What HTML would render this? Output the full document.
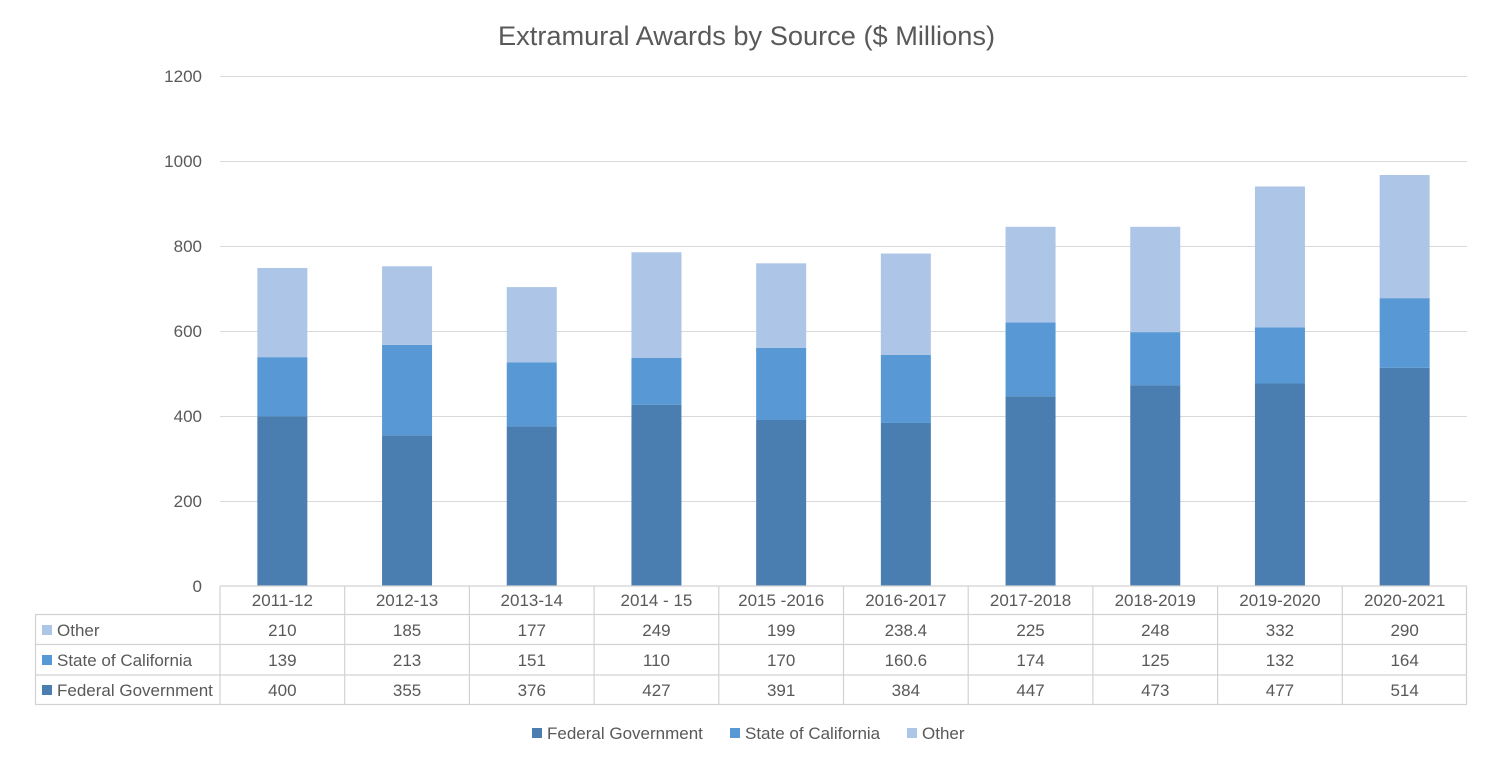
<!DOCTYPE html>
<html>
<head>
<meta charset="utf-8">
<style>
html,body{margin:0;padding:0;background:#fff;}
svg{display:block;}
text{font-family:"Liberation Sans",Arial,sans-serif;fill:#595959;}
</style>
</head>
<body>
<svg width="1490" height="763" viewBox="0 0 1490 763" xmlns="http://www.w3.org/2000/svg">
<rect x="0" y="0" width="1490" height="763" fill="#fff"/>
<!-- title -->
<text x="746.5" y="45" font-size="27" text-anchor="middle" textLength="497" lengthAdjust="spacingAndGlyphs">Extramural Awards by Source ($ Millions)</text>

<!-- gridlines -->
<g stroke="#d9d9d9" stroke-width="1">
<line x1="220" y1="76.5" x2="1467" y2="76.5"/>
<line x1="220" y1="161.5" x2="1467" y2="161.5"/>
<line x1="220" y1="246.5" x2="1467" y2="246.5"/>
<line x1="220" y1="331.5" x2="1467" y2="331.5"/>
<line x1="220" y1="416.5" x2="1467" y2="416.5"/>
<line x1="220" y1="501.5" x2="1467" y2="501.5"/>
</g>

<!-- y labels -->
<g font-size="17" text-anchor="end">
<text x="202" y="82">1200</text>
<text x="202" y="167">1000</text>
<text x="202" y="252">800</text>
<text x="202" y="337">600</text>
<text x="202" y="422">400</text>
<text x="202" y="507">200</text>
<text x="202" y="592">0</text>
</g>

<!-- bars: federal -->
<g fill="#4a7eb0">
<rect x="257.35" y="416.17" width="50" height="169.83"/>
<rect x="382.05" y="435.27" width="50" height="150.73"/>
<rect x="506.75" y="426.36" width="50" height="159.64"/>
<rect x="631.45" y="404.70" width="50" height="181.30"/>
<rect x="756.15" y="419.99" width="50" height="166.01"/>
<rect x="880.85" y="422.96" width="50" height="163.04"/>
<rect x="1005.55" y="396.21" width="50" height="189.79"/>
<rect x="1130.25" y="385.17" width="50" height="200.83"/>
<rect x="1254.95" y="383.48" width="50" height="202.52"/>
<rect x="1379.65" y="367.77" width="50" height="218.23"/>
</g>
<!-- bars: state -->
<g fill="#5899d5">
<rect x="257.35" y="357.15" width="50" height="59.02"/>
<rect x="382.05" y="344.84" width="50" height="90.43"/>
<rect x="506.75" y="362.25" width="50" height="64.11"/>
<rect x="631.45" y="358.00" width="50" height="46.70"/>
<rect x="756.15" y="347.81" width="50" height="72.18"/>
<rect x="880.85" y="354.77" width="50" height="68.19"/>
<rect x="1005.55" y="322.34" width="50" height="73.87"/>
<rect x="1130.25" y="332.10" width="50" height="53.07"/>
<rect x="1254.95" y="327.43" width="50" height="56.05"/>
<rect x="1379.65" y="298.13" width="50" height="69.64"/>
</g>
<!-- bars: other -->
<g fill="#adc5e6">
<rect x="257.35" y="267.99" width="50" height="89.16"/>
<rect x="382.05" y="266.29" width="50" height="78.55"/>
<rect x="506.75" y="287.10" width="50" height="75.15"/>
<rect x="631.45" y="252.28" width="50" height="105.72"/>
<rect x="756.15" y="263.32" width="50" height="84.49"/>
<rect x="880.85" y="253.55" width="50" height="101.22"/>
<rect x="1005.55" y="226.81" width="50" height="95.53"/>
<rect x="1130.25" y="226.81" width="50" height="105.29"/>
<rect x="1254.95" y="186.47" width="50" height="140.96"/>
<rect x="1379.65" y="175.01" width="50" height="123.12"/>
</g>

<!-- table lines -->
<g stroke="#d2d2d2" stroke-width="1.2">
<line x1="220" y1="586" x2="1467" y2="586"/>
<line x1="35" y1="614.5" x2="1467" y2="614.5"/>
<line x1="35" y1="644.5" x2="1467" y2="644.5"/>
<line x1="35" y1="675" x2="1467" y2="675"/>
<line x1="35" y1="704.5" x2="1467" y2="704.5"/>
<line x1="35.5" y1="614.5" x2="35.5" y2="704.5"/>
<line x1="220" y1="586" x2="220" y2="704.5"/>
<line x1="344.7" y1="586" x2="344.7" y2="704.5"/>
<line x1="469.4" y1="586" x2="469.4" y2="704.5"/>
<line x1="594.1" y1="586" x2="594.1" y2="704.5"/>
<line x1="718.8" y1="586" x2="718.8" y2="704.5"/>
<line x1="843.5" y1="586" x2="843.5" y2="704.5"/>
<line x1="968.2" y1="586" x2="968.2" y2="704.5"/>
<line x1="1092.9" y1="586" x2="1092.9" y2="704.5"/>
<line x1="1217.6" y1="586" x2="1217.6" y2="704.5"/>
<line x1="1342.3" y1="586" x2="1342.3" y2="704.5"/>
<line x1="1466.5" y1="586" x2="1466.5" y2="704.5"/>
</g>

<!-- table header -->
<g font-size="17" text-anchor="middle">
<text x="282.35" y="606">2011-12</text>
<text x="407.05" y="606">2012-13</text>
<text x="531.75" y="606">2013-14</text>
<text x="656.45" y="606">2014 - 15</text>
<text x="781.15" y="606">2015 -2016</text>
<text x="905.85" y="606">2016-2017</text>
<text x="1030.55" y="606">2017-2018</text>
<text x="1155.25" y="606">2018-2019</text>
<text x="1279.95" y="606">2019-2020</text>
<text x="1404.65" y="606">2020-2021</text>
</g>

<!-- row labels -->
<rect x="42" y="625" width="10" height="10" fill="#adc5e6"/>
<rect x="42" y="655" width="10" height="10" fill="#5899d5"/>
<rect x="42" y="685" width="10" height="10" fill="#4a7eb0"/>
<g font-size="17">
<text x="57" y="636">Other</text>
<text x="57" y="666">State of California</text>
<text x="57" y="696">Federal Government</text>
</g>

<!-- rows -->
<g font-size="17" text-anchor="middle">
<text x="282.35" y="636">210</text>
<text x="407.05" y="636">185</text>
<text x="531.75" y="636">177</text>
<text x="656.45" y="636">249</text>
<text x="781.15" y="636">199</text>
<text x="905.85" y="636">238.4</text>
<text x="1030.55" y="636">225</text>
<text x="1155.25" y="636">248</text>
<text x="1279.95" y="636">332</text>
<text x="1404.65" y="636">290</text>

<text x="282.35" y="666">139</text>
<text x="407.05" y="666">213</text>
<text x="531.75" y="666">151</text>
<text x="656.45" y="666">110</text>
<text x="781.15" y="666">170</text>
<text x="905.85" y="666">160.6</text>
<text x="1030.55" y="666">174</text>
<text x="1155.25" y="666">125</text>
<text x="1279.95" y="666">132</text>
<text x="1404.65" y="666">164</text>

<text x="282.35" y="696">400</text>
<text x="407.05" y="696">355</text>
<text x="531.75" y="696">376</text>
<text x="656.45" y="696">427</text>
<text x="781.15" y="696">391</text>
<text x="905.85" y="696">384</text>
<text x="1030.55" y="696">447</text>
<text x="1155.25" y="696">473</text>
<text x="1279.95" y="696">477</text>
<text x="1404.65" y="696">514</text>
</g>

<!-- legend -->
<rect x="532" y="728" width="10" height="10" fill="#4a7eb0"/>
<rect x="730" y="728" width="10" height="10" fill="#5899d5"/>
<rect x="907" y="728" width="10" height="10" fill="#adc5e6"/>
<g font-size="17">
<text x="547" y="739">Federal Government</text>
<text x="745" y="739">State of California</text>
<text x="922" y="739">Other</text>
</g>
</svg>
</body>
</html>
